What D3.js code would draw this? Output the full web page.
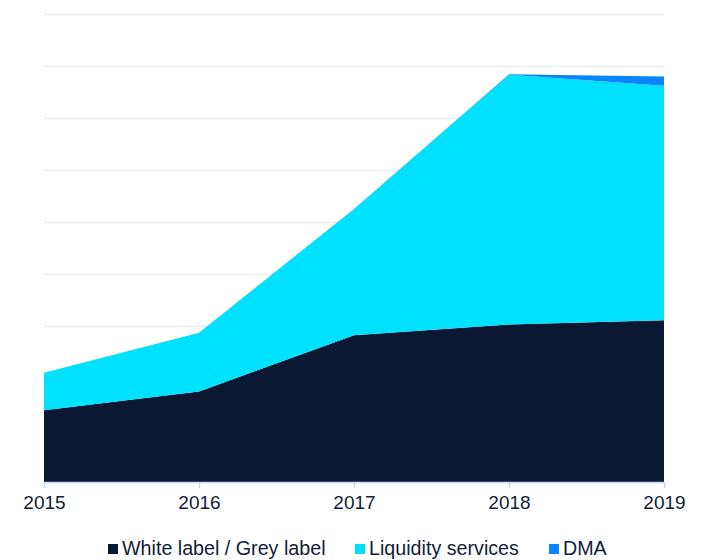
<!DOCTYPE html>
<html>
<head>
<meta charset="utf-8">
<script src="https://cdn.jsdelivr.net/npm/d3@7"></script>
<style>
  body { margin: 0; background: #fff; }
  svg text { font-family: "Liberation Sans", Arial, sans-serif; fill: #141c36; }
</style>
</head>
<body>
<svg width="701" height="560"></svg>
<script>
// chart data
var years = [2015, 2016, 2017, 2018, 2019];
var seriesNames = ["White label / Grey label", "Liquidity services", "DMA"];
var whiteLabel = [13.8, 17.4, 28.2, 30.3, 31.1];
var liquidity = [7.2, 11.3, 24.3, 48.0, 45.1];
var dma = [0, 0, 0, 0.1, 1.8];
var gridTicks = [0, 10, 20, 30, 40, 50, 60, 70, 80, 90];

var colors = ["#0a1833", "#00e0ff", "#0a84ff"];

var svg = d3.select("svg"),
    margin = { top: 14, right: 37, bottom: 78, left: 44 },
    width = +svg.attr("width") - margin.left - margin.right,
    height = +svg.attr("height") - margin.top - margin.bottom;

var x = d3.scalePoint().domain(years).range([0, width]),
    y = d3.scaleLinear().domain([0, 90]).range([height, 0]);

var g = svg.append("g")
    .attr("transform", "translate(" + margin.left + "," + margin.top + ")");

// gridlines
g.selectAll(".grid")
    .data(gridTicks.slice(1))
    .enter().append("line")
    .attr("class", "grid")
    .attr("x1", 0)
    .attr("x2", width)
    .attr("y1", function (d) { return Math.round(y(d)) + 0.5; })
    .attr("y2", function (d) { return Math.round(y(d)) + 0.5; })
    .attr("stroke", "#e9eded")
    .attr("stroke-width", 1.5);

// build table for the stack
var table = years.map(function (yr, i) {
    var row = { year: yr };
    row[seriesNames[0]] = whiteLabel[i];
    row[seriesNames[1]] = liquidity[i];
    row[seriesNames[2]] = dma[i];
    return row;
});

var stack = d3.stack().keys(seriesNames);
var layers = stack(table);

var area = d3.area()
    .x(function (d) { return x(d.data.year); })
    .y0(function (d) { return y(d[0]); })
    .y1(function (d) { return y(d[1]); });

g.selectAll(".layer")
    .data(layers)
    .enter().append("path")
    .attr("class", "layer")
    .attr("d", area)
    .attr("fill", function (d, i) { return colors[i]; });

// x axis
var xAxis = g.append("g")
    .attr("transform", "translate(0," + height + ")")
    .call(d3.axisBottom(x).tickSize(6).tickPadding(8).tickSizeOuter(0));

xAxis.select(".domain").attr("stroke", "#c9d7f2").attr("stroke-width", 1.5);
xAxis.selectAll(".tick line").attr("stroke", "#c9d7f2").attr("stroke-width", 1.5);
xAxis.selectAll(".tick text")
    .attr("font-size", "19px")
    .attr("fill", "#141c36")
    .style("font-family", "'Liberation Sans', Arial, sans-serif");

// legend
var legendPos = [108, 355, 549];
var legend = svg.append("g");
seriesNames.forEach(function (name, i) {
    legend.append("rect")
        .attr("x", legendPos[i])
        .attr("y", 544)
        .attr("width", 10)
        .attr("height", 10)
        .attr("fill", colors[i]);
    legend.append("text")
        .attr("x", legendPos[i] + 14)
        .attr("y", 555)
        .attr("font-size", "19.7px")
        .text(name);
});
</script>
</body>
</html>
